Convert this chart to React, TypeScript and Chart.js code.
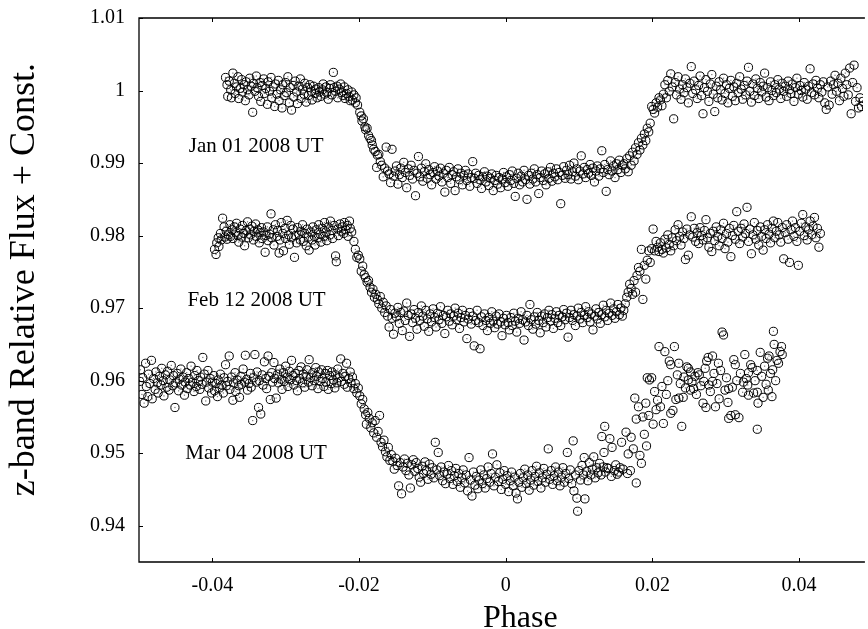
import React, { useEffect, useRef } from 'react';
import { Chart, registerables } from 'chart.js';

Chart.register(...registerables);

const FONT = '"Liberation Serif", "Times New Roman", serif';

const xTickValues = [-0.04, -0.02, 0, 0.02, 0.04];
const xTickLabels = ['-0.04', '-0.02', '0', '0.02', '0.04'];
const yTickValues = [0.94, 0.95, 0.96, 0.97, 0.98, 0.99, 1.0, 1.01];
const yTickLabels = ['0.94', '0.95', '0.96', '0.97', '0.98', '0.99', '1', '1.01'];
const xTitle = 'Phase';
const yTitle = 'z-band Relative Flux + Const.';
const seriesNames = ['Jan 01 2008 UT', 'Feb 12 2008 UT', 'Mar 04 2008 UT'];
// label anchors in data coordinates (phase, flux) for the date texts
const labelAnchors: [number, number][] = [[-0.0432, 0.99153], [-0.0434, 0.97026], [-0.0437, 0.94915]];

const jan01: [number, number][] = [
[-0.0382,1.0018],[-0.0380,1.0008],[-0.0379,0.9992],[-0.0377,1.0013],[-0.0375,1.0001],[-0.0374,0.9990],[-0.0372,1.0024],[-0.0370,1.0010],[-0.0369,0.9996],[-0.0367,1.0005],[-0.0365,1.0019],[-0.0364,0.9989],[-0.0362,1.0003],[-0.0360,1.0015],[-0.0359,0.9998],[-0.0357,1.0008],[-0.0355,0.9986],[-0.0354,1.0012],[-0.0352,1.0001],[-0.0350,0.9994],[-0.0349,1.0017],[-0.0347,1.0006],[-0.0345,0.9970],[-0.0344,1.0010],[-0.0342,0.9999],[-0.0340,1.0020],[-0.0339,1.0004],[-0.0337,0.9992],[-0.0335,1.0011],[-0.0334,0.9985],[-0.0332,1.0007],[-0.0330,1.0016],[-0.0329,0.9996],[-0.0327,1.0003],[-0.0325,0.9981],[-0.0324,1.0012],[-0.0322,0.9999],[-0.0320,1.0018],[-0.0319,0.9990],[-0.0317,1.0005],[-0.0315,0.9978],[-0.0314,1.0009],[-0.0312,0.9995],[-0.0310,1.0014],[-0.0309,0.9986],[-0.0307,1.0001],[-0.0305,0.9976],[-0.0304,1.0008],[-0.0302,0.9993],[-0.0300,1.0011],[-0.0299,0.9997],[-0.0297,1.0019],[-0.0295,0.9983],[-0.0294,1.0004],[-0.0292,0.9973],[-0.0290,1.0007],[-0.0289,0.9991],[-0.0287,1.0013],[-0.0285,0.9998],[-0.0284,0.9982],[-0.0282,1.0006],[-0.0280,1.0016],[-0.0279,0.9989],[-0.0277,1.0002],[-0.0275,0.9995],[-0.0274,1.0010],[-0.0272,0.9984],[-0.0270,1.0004],[-0.0269,0.9993],[-0.0267,1.0008],[-0.0265,0.9999],[-0.0264,0.9987],[-0.0262,1.0006],[-0.0260,0.9996],[-0.0259,1.0002],[-0.0257,0.9990],[-0.0255,1.0004],[-0.0254,0.9998],[-0.0252,0.9992],[-0.0250,1.0001],[-0.0249,1.0009],[-0.0247,0.9995],[-0.0245,1.0005],[-0.0244,0.9997],[-0.0242,0.9988],[-0.0240,1.0003],[-0.0239,1.0008],[-0.0237,0.9994],[-0.0235,1.0025],[-0.0234,1.0004],[-0.0232,0.9999],[-0.0230,1.0006],[-0.0229,0.9990],[-0.0227,1.0002],[-0.0225,1.0009],[-0.0224,0.9997],[-0.0222,0.9993],[-0.0220,1.0005],[-0.0219,0.9989],[-0.0217,0.9996],[-0.0215,1.0001],[-0.0214,0.9992],[-0.0212,0.9986],[-0.0210,0.9998],[-0.0209,0.9987],[-0.0207,0.9994],[-0.0205,0.9983],[-0.0204,0.9990],[-0.0202,0.9980],
[-0.0199,0.9970],[-0.0197,0.9965],[-0.0196,0.9958],[-0.0194,0.9961],[-0.0192,0.9950],[-0.0191,0.9946],[-0.0189,0.9948],[-0.0187,0.9938],[-0.0185,0.9934],[-0.0183,0.9931],[-0.0182,0.9925],[-0.0180,0.9919],[-0.0178,0.9916],[-0.0176,0.9894],[-0.0175,0.9911],[-0.0173,0.9912],[-0.0171,0.9902],[-0.0169,0.9897],[-0.0167,0.9881],[-0.0165,0.9893],[-0.0163,0.9922],[-0.0161,0.9889],[-0.0159,0.9885],[-0.0157,0.9873],[-0.0155,0.9919],[-0.0153,0.9882],
[-0.0151,0.9889],[-0.0149,0.9896],[-0.0147,0.9871],[-0.0145,0.9884],[-0.0143,0.9893],[-0.0141,0.9880],[-0.0139,0.9901],[-0.0137,0.9887],[-0.0135,0.9866],[-0.0133,0.9892],[-0.0131,0.9883],[-0.0129,0.9897],[-0.0127,0.9878],[-0.0125,0.9890],[-0.0123,0.9855],[-0.0121,0.9886],[-0.0119,0.9909],[-0.0117,0.9881],[-0.0115,0.9893],[-0.0113,0.9875],[-0.0111,0.9888],[-0.0109,0.9899],[-0.0107,0.9879],[-0.0105,0.9891],[-0.0103,0.9884],[-0.0101,0.9870],[-0.0099,0.9887],[-0.0097,0.9895],[-0.0095,0.9878],[-0.0093,0.9889],[-0.0091,0.9882],[-0.0089,0.9893],[-0.0087,0.9874],[-0.0085,0.9886],[-0.0083,0.9860],[-0.0081,0.9890],[-0.0079,0.9880],[-0.0077,0.9894],[-0.0075,0.9872],[-0.0073,0.9884],[-0.0071,0.9888],[-0.0069,0.9862],[-0.0067,0.9881],[-0.0065,0.9892],[-0.0063,0.9877],[-0.0061,0.9886],[-0.0059,0.9870],[-0.0057,0.9883],[-0.0055,0.9890],[-0.0053,0.9876],[-0.0051,0.9885],[-0.0049,0.9868],[-0.0047,0.9880],[-0.0045,0.9902],[-0.0043,0.9879],[-0.0041,0.9886],[-0.0039,0.9872],[-0.0037,0.9883],[-0.0035,0.9877],[-0.0033,0.9865],[-0.0031,0.9881],[-0.0029,0.9888],[-0.0027,0.9874],[-0.0025,0.9882],[-0.0023,0.9869],[-0.0021,0.9879],[-0.0019,0.9885],[-0.0017,0.9862],[-0.0015,0.9876],[-0.0013,0.9883],[-0.0011,0.9871],[-0.0009,0.9880],[-0.0007,0.9866],[-0.0005,0.9878],[-0.0003,0.9887],[-0.0001,0.9873],[0.0001,0.9881],[0.0003,0.9868],[0.0005,0.9884],[0.0007,0.9876],[0.0009,0.9889],[0.0011,0.9872],[0.0013,0.9854],[0.0015,0.9879],[0.0017,0.9886],[0.0019,0.9870],[0.0021,0.9882],[0.0023,0.9874],[0.0025,0.9890],[0.0027,0.9877],[0.0029,0.9850],[0.0031,0.9883],[0.0033,0.9871],[0.0035,0.9886],[0.0037,0.9878],[0.0039,0.9892],[0.0041,0.9874],[0.0043,0.9884],[0.0045,0.9858],[0.0047,0.9880],[0.0049,0.9889],[0.0051,0.9876],[0.0053,0.9885],[0.0055,0.9870],[0.0057,0.9888],[0.0059,0.9879],[0.0061,0.9894],[0.0063,0.9875],[0.0065,0.9886],[0.0067,0.9881],[0.0069,0.9892],[0.0071,0.9877],[0.0073,0.9887],[0.0075,0.9844],[0.0077,0.9883],[0.0079,0.9895],[0.0081,0.9879],[0.0083,0.9890],[0.0085,0.9884],[0.0087,0.9897],[0.0089,0.9878],[0.0091,0.9888],[0.0093,0.9900],[0.0095,0.9882],[0.0097,0.9892],[0.0099,0.9877],[0.0101,0.9889],[0.0103,0.9910],[0.0105,0.9885],[0.0107,0.9894],[0.0109,0.9880],[0.0111,0.9891],[0.0113,0.9886],[0.0115,0.9898],[0.0117,0.9883],[0.0119,0.9893],[0.0121,0.9874],[0.0123,0.9889],[0.0125,0.9896],[0.0127,0.9882],[0.0129,0.9892],[0.0131,0.9917],[0.0133,0.9887],[0.0135,0.9898],[0.0137,0.9861],[0.0139,0.9891],[0.0141,0.9884],[0.0143,0.9903],[0.0145,0.9889],[0.0147,0.9896],[0.0149,0.9880],[0.0151,0.9899],[0.0153,0.9891],[0.0155,0.9904],[0.0157,0.9887],[0.0159,0.9897],
[0.0161,0.9899],[0.0163,0.9892],[0.0165,0.9906],[0.0167,0.9888],[0.0169,0.9910],[0.0171,0.9897],[0.0173,0.9915],[0.0175,0.9903],[0.0177,0.9921],[0.0179,0.9912],[0.0181,0.9928],[0.0183,0.9918],[0.0185,0.9934],[0.0187,0.9925],[0.0189,0.9940],[0.0191,0.9931],[0.0193,0.9948],[0.0195,0.9943],[0.0197,0.9955],[0.0199,0.9978],[0.0201,0.9974],[0.0203,0.9969],[0.0205,0.9983],[0.0207,0.9977],[0.0209,0.9990],
[0.0211,0.9987],[0.0213,0.9979],[0.0215,0.9995],[0.0217,1.0008],[0.0219,0.9990],[0.0221,1.0014],[0.0223,0.9999],[0.0225,1.0023],[0.0227,1.0005],[0.0229,0.9961],[0.0231,1.0011],[0.0233,0.9994],[0.0235,1.0019],[0.0237,1.0002],[0.0239,0.9988],[0.0241,1.0008],[0.0243,0.9997],[0.0245,1.0016],[0.0247,1.0004],[0.0249,0.9983],[0.0251,1.0010],[0.0253,1.0033],[0.0255,0.9996],[0.0257,1.0013],[0.0259,1.0001],[0.0261,0.9989],[0.0263,1.0007],[0.0265,1.0020],[0.0267,0.9993],[0.0269,0.9968],[0.0271,1.0004],[0.0273,1.0015],[0.0275,0.9999],[0.0277,0.9985],[0.0279,1.0009],[0.0281,1.0022],[0.0283,0.9995],[0.0285,0.9971],[0.0287,1.0006],[0.0289,0.9990],[0.0291,1.0012],[0.0293,1.0001],[0.0295,0.9987],[0.0297,1.0017],[0.0299,0.9996],[0.0301,1.0008],[0.0303,0.9983],[0.0305,1.0003],[0.0307,1.0014],[0.0309,0.9992],[0.0311,1.0005],[0.0313,0.9986],[0.0315,1.0010],[0.0317,0.9997],[0.0319,1.0019],[0.0321,1.0002],[0.0323,0.9988],[0.0325,1.0007],[0.0327,0.9994],[0.0329,1.0013],[0.0331,1.0032],[0.0333,0.9999],[0.0335,0.9984],[0.0337,1.0009],[0.0339,0.9993],[0.0341,1.0016],[0.0343,1.0003],[0.0345,0.9989],[0.0347,1.0011],[0.0349,0.9998],[0.0351,1.0006],[0.0353,1.0024],[0.0355,0.9991],[0.0357,1.0004],[0.0359,0.9986],[0.0361,1.0012],[0.0363,1.0000],[0.0365,0.9993],[0.0367,1.0008],[0.0369,0.9997],[0.0371,1.0015],[0.0373,1.0002],[0.0375,0.9989],[0.0377,1.0010],[0.0379,0.9999],[0.0381,1.0006],[0.0383,0.9992],[0.0385,1.0013],[0.0387,1.0001],[0.0389,0.9996],[0.0391,1.0009],[0.0393,0.9985],[0.0395,1.0004],[0.0397,1.0017],[0.0399,0.9995],[0.0401,1.0007],[0.0403,1.0000],[0.0405,0.9991],[0.0407,1.0011],[0.0409,1.0002],[0.0411,0.9988],[0.0413,1.0006],[0.0415,1.0030],[0.0417,0.9997],[0.0419,1.0009],[0.0421,0.9994],[0.0423,1.0014],[0.0425,1.0003],[0.0427,0.9990],[0.0429,1.0008],[0.0431,0.9998],[0.0433,1.0012],[0.0435,0.9983],[0.0437,0.9974],[0.0439,1.0005],[0.0441,0.9980],[0.0443,1.0013],[0.0445,0.9995],[0.0447,1.0008],[0.0449,1.0021],[0.0451,0.9999],[0.0453,1.0010],[0.0455,0.9986],[0.0457,1.0017],[0.0459,1.0003],[0.0461,0.9992],[0.0463,1.0024],[0.0465,1.0008],[0.0467,0.9994],[0.0469,1.0031],[0.0471,0.9968],[0.0473,1.0011],[0.0475,1.0035],[0.0477,0.9985],[0.0479,1.0004],[0.0481,0.9976],[0.0483,0.9990],[0.0485,0.9978],[0.0487,0.9985],[0.0489,0.9992]
];

const feb12: [number, number][] = [
[-0.0397,0.9781],[-0.0395,0.9774],[-0.0394,0.9790],[-0.0392,0.9797],[-0.0391,0.9785],[-0.0389,0.9803],[-0.0388,0.9794],[-0.0386,0.9824],[-0.0384,0.9812],[-0.0383,0.9798],[-0.0381,0.9806],[-0.0380,0.9795],[-0.0378,0.9801],[-0.0376,0.9815],[-0.0375,0.9799],[-0.0373,0.9808],[-0.0372,0.9796],[-0.0370,0.9812],[-0.0368,0.9804],[-0.0367,0.9817],[-0.0365,0.9800],[-0.0364,0.9791],[-0.0362,0.9809],[-0.0360,0.9798],[-0.0359,0.9814],[-0.0357,0.9803],[-0.0356,0.9786],[-0.0354,0.9807],[-0.0352,0.9819],[-0.0351,0.9797],[-0.0349,0.9809],[-0.0348,0.9801],[-0.0346,0.9813],[-0.0344,0.9794],[-0.0343,0.9806],[-0.0341,0.9816],[-0.0340,0.9799],[-0.0338,0.9808],[-0.0336,0.9790],[-0.0335,0.9804],[-0.0333,0.9811],[-0.0332,0.9796],[-0.0330,0.9805],[-0.0328,0.9777],[-0.0327,0.9800],[-0.0325,0.9812],[-0.0324,0.9793],[-0.0322,0.9802],[-0.0320,0.9830],[-0.0319,0.9797],[-0.0317,0.9808],[-0.0316,0.9787],[-0.0314,0.9815],[-0.0312,0.9799],[-0.0311,0.9807],[-0.0309,0.9776],[-0.0308,0.9794],[-0.0306,0.9818],[-0.0304,0.9803],[-0.0303,0.9779],[-0.0301,0.9810],[-0.0300,0.9796],[-0.0298,0.9821],[-0.0296,0.9801],[-0.0295,0.9788],[-0.0293,0.9814],[-0.0292,0.9797],[-0.0290,0.9809],[-0.0288,0.9770],[-0.0287,0.9800],[-0.0285,0.9790],[-0.0284,0.9811],[-0.0282,0.9802],[-0.0280,0.9794],[-0.0279,0.9806],[-0.0277,0.9815],[-0.0276,0.9792],[-0.0274,0.9803],[-0.0272,0.9786],[-0.0271,0.9809],[-0.0269,0.9798],[-0.0268,0.9780],[-0.0266,0.9805],[-0.0264,0.9794],[-0.0263,0.9812],[-0.0261,0.9799],[-0.0260,0.9787],[-0.0258,0.9808],[-0.0256,0.9797],[-0.0255,0.9815],[-0.0253,0.9802],[-0.0252,0.9791],[-0.0250,0.9810],[-0.0248,0.9799],[-0.0247,0.9818],[-0.0245,0.9805],[-0.0244,0.9793],[-0.0242,0.9812],[-0.0240,0.9801],[-0.0239,0.9820],[-0.0237,0.9807],[-0.0236,0.9796],[-0.0234,0.9814],[-0.0232,0.9772],[-0.0231,0.9764],[-0.0229,0.9809],[-0.0228,0.9800],[-0.0226,0.9816],[-0.0224,0.9806],[-0.0223,0.9812],[-0.0221,0.9803],[-0.0220,0.9818],[-0.0218,0.9808],[-0.0216,0.9814],[-0.0215,0.9799],[-0.0213,0.9820],[-0.0212,0.9810],[-0.0210,0.9805],
[-0.0207,0.9792],[-0.0205,0.9781],[-0.0203,0.9770],[-0.0201,0.9773],[-0.0199,0.9768],[-0.0197,0.9751],[-0.0195,0.9758],[-0.0193,0.9746],[-0.0191,0.9742],[-0.0189,0.9736],[-0.0187,0.9738],[-0.0185,0.9729],[-0.0183,0.9722],[-0.0181,0.9726],[-0.0179,0.9715],[-0.0177,0.9719],[-0.0175,0.9712],[-0.0173,0.9706],[-0.0171,0.9716],[-0.0169,0.9700],[-0.0167,0.9708],[-0.0165,0.9694],[-0.0163,0.9703],[-0.0161,0.9689],[-0.0159,0.9674],[-0.0157,0.9698],[-0.0155,0.9686],[-0.0153,0.9664],[-0.0151,0.9693],
[-0.0149,0.9688],[-0.0147,0.9701],[-0.0145,0.9679],[-0.0143,0.9694],[-0.0141,0.9669],[-0.0139,0.9696],[-0.0137,0.9683],[-0.0135,0.9707],[-0.0133,0.9690],[-0.0131,0.9661],[-0.0129,0.9692],[-0.0127,0.9680],[-0.0125,0.9698],[-0.0123,0.9686],[-0.0121,0.9671],[-0.0119,0.9694],[-0.0117,0.9683],[-0.0115,0.9703],[-0.0113,0.9689],[-0.0111,0.9675],[-0.0109,0.9697],[-0.0107,0.9685],[-0.0105,0.9668],[-0.0103,0.9692],[-0.0101,0.9681],[-0.0099,0.9699],[-0.0097,0.9687],[-0.0095,0.9674],[-0.0093,0.9693],[-0.0091,0.9684],[-0.0089,0.9702],[-0.0087,0.9679],[-0.0085,0.9690],[-0.0083,0.9665],[-0.0081,0.9688],[-0.0079,0.9697],[-0.0077,0.9682],[-0.0075,0.9692],[-0.0073,0.9677],[-0.0071,0.9689],[-0.0069,0.9700],[-0.0067,0.9684],[-0.0065,0.9693],[-0.0063,0.9672],[-0.0061,0.9687],[-0.0059,0.9697],[-0.0057,0.9681],[-0.0055,0.9690],[-0.0053,0.9658],[-0.0051,0.9685],[-0.0049,0.9694],[-0.0047,0.9678],[-0.0045,0.9689],[-0.0043,0.9648],[-0.0041,0.9683],[-0.0039,0.9697],[-0.0037,0.9680],[-0.0035,0.9644],[-0.0033,0.9688],[-0.0031,0.9676],[-0.0029,0.9692],[-0.0027,0.9683],[-0.0025,0.9669],[-0.0023,0.9687],[-0.0021,0.9679],[-0.0019,0.9695],[-0.0017,0.9682],[-0.0015,0.9673],[-0.0013,0.9689],[-0.0011,0.9678],[-0.0009,0.9692],[-0.0007,0.9681],[-0.0005,0.9662],[-0.0003,0.9686],[-0.0001,0.9677],[0.0001,0.9690],[0.0003,0.9680],[0.0005,0.9670],[0.0007,0.9687],[0.0009,0.9676],[0.0011,0.9693],[0.0013,0.9682],[0.0015,0.9667],[0.0017,0.9686],[0.0019,0.9679],[0.0021,0.9695],[0.0023,0.9684],[0.0025,0.9656],[0.0027,0.9681],[0.0029,0.9690],[0.0031,0.9676],[0.0033,0.9705],[0.0035,0.9684],[0.0037,0.9671],[0.0039,0.9688],[0.0041,0.9678],[0.0043,0.9694],[0.0045,0.9683],[0.0047,0.9666],[0.0049,0.9689],[0.0051,0.9680],[0.0053,0.9692],[0.0055,0.9674],[0.0057,0.9687],[0.0059,0.9697],[0.0061,0.9682],[0.0063,0.9691],[0.0065,0.9672],[0.0067,0.9686],[0.0069,0.9695],[0.0071,0.9680],[0.0073,0.9690],[0.0075,0.9676],[0.0077,0.9688],[0.0079,0.9698],[0.0081,0.9684],[0.0083,0.9693],[0.0085,0.9660],[0.0087,0.9687],[0.0089,0.9697],[0.0091,0.9683],[0.0093,0.9691],[0.0095,0.9676],[0.0097,0.9689],[0.0099,0.9700],[0.0101,0.9685],[0.0103,0.9694],[0.0105,0.9680],[0.0107,0.9690],[0.0109,0.9702],[0.0111,0.9687],[0.0113,0.9695],[0.0115,0.9681],[0.0117,0.9692],[0.0119,0.9670],[0.0121,0.9689],[0.0123,0.9699],[0.0125,0.9685],[0.0127,0.9694],[0.0129,0.9679],[0.0131,0.9691],[0.0133,0.9704],[0.0135,0.9688],[0.0137,0.9697],[0.0139,0.9683],[0.0141,0.9693],[0.0143,0.9707],[0.0145,0.9690],[0.0147,0.9699],[0.0149,0.9686],[0.0151,0.9695],[0.0153,0.9705],[0.0155,0.9691],[0.0157,0.9700],[0.0159,0.9689],[0.0161,0.9697],
[0.0163,0.9706],[0.0165,0.9715],[0.0167,0.9722],[0.0169,0.9733],[0.0171,0.9727],[0.0173,0.9719],[0.0175,0.9738],[0.0177,0.9722],[0.0179,0.9745],[0.0181,0.9756],[0.0183,0.9751],[0.0185,0.9781],[0.0187,0.9712],[0.0189,0.9759],[0.0191,0.9740],[0.0193,0.9766],[0.0195,0.9779],[0.0197,0.9763],[0.0199,0.9782],[0.0201,0.9809],[0.0203,0.9779],[0.0205,0.9792],
[0.0207,0.9784],[0.0209,0.9778],[0.0211,0.9790],[0.0213,0.9781],[0.0215,0.9776],[0.0217,0.9795],[0.0219,0.9783],[0.0221,0.9801],[0.0223,0.9788],[0.0225,0.9779],[0.0227,0.9797],[0.0229,0.9786],[0.0231,0.9808],[0.0233,0.9793],[0.0235,0.9815],[0.0237,0.9799],[0.0239,0.9787],[0.0241,0.9805],[0.0243,0.9796],[0.0245,0.9767],[0.0247,0.9809],[0.0249,0.9773],[0.0251,0.9801],[0.0253,0.9826],[0.0255,0.9798],[0.0257,0.9810],[0.0259,0.9792],[0.0261,0.9804],[0.0263,0.9789],[0.0265,0.9811],[0.0267,0.9800],[0.0269,0.9794],[0.0271,0.9807],[0.0273,0.9822],[0.0275,0.9797],[0.0277,0.9784],[0.0279,0.9803],[0.0281,0.9778],[0.0283,0.9806],[0.0285,0.9793],[0.0287,0.9812],[0.0289,0.9799],[0.0291,0.9786],[0.0293,0.9808],[0.0295,0.9796],[0.0297,0.9817],[0.0299,0.9782],[0.0301,0.9803],[0.0303,0.9791],[0.0305,0.9810],[0.0307,0.9771],[0.0309,0.9800],[0.0311,0.9814],[0.0313,0.9795],[0.0315,0.9833],[0.0317,0.9806],[0.0319,0.9789],[0.0321,0.9810],[0.0323,0.9798],[0.0325,0.9816],[0.0327,0.9803],[0.0329,0.9839],[0.0331,0.9792],[0.0333,0.9809],[0.0335,0.9775],[0.0337,0.9801],[0.0339,0.9818],[0.0341,0.9795],[0.0343,0.9807],[0.0345,0.9787],[0.0347,0.9812],[0.0349,0.9799],[0.0351,0.9780],[0.0353,0.9808],[0.0355,0.9796],[0.0357,0.9815],[0.0359,0.9802],[0.0361,0.9790],[0.0363,0.9810],[0.0365,0.9820],[0.0367,0.9797],[0.0369,0.9806],[0.0371,0.9818],[0.0373,0.9801],[0.0375,0.9791],[0.0377,0.9811],[0.0379,0.9768],[0.0381,0.9804],[0.0383,0.9815],[0.0385,0.9795],[0.0387,0.9763],[0.0389,0.9808],[0.0391,0.9820],[0.0393,0.9799],[0.0395,0.9811],[0.0397,0.9792],[0.0399,0.9759],[0.0401,0.9806],[0.0403,0.9817],[0.0405,0.9829],[0.0407,0.9800],[0.0409,0.9812],[0.0411,0.9794],[0.0413,0.9808],[0.0415,0.9820],[0.0417,0.9801],[0.0419,0.9813],[0.0421,0.9825],[0.0423,0.9797],[0.0425,0.9810],[0.0427,0.9784],[0.0429,0.9803]
];

const mar04: [number, number][] = [
[-0.0499,0.9599],[-0.0498,0.9615],[-0.0496,0.9581],[-0.0495,0.9604],[-0.0493,0.9569],[-0.0491,0.9624],[-0.0490,0.9592],[-0.0488,0.9578],[-0.0487,0.9609],[-0.0485,0.9596],[-0.0483,0.9628],[-0.0482,0.9575],[-0.0480,0.9603],[-0.0478,0.9588],[-0.0477,0.9612],[-0.0475,0.9597],[-0.0474,0.9583],[-0.0472,0.9606],[-0.0470,0.9594],[-0.0469,0.9617],[-0.0467,0.9600],[-0.0466,0.9579],[-0.0464,0.9608],[-0.0462,0.9591],[-0.0461,0.9613],[-0.0459,0.9587],[-0.0458,0.9601],[-0.0456,0.9621],[-0.0454,0.9593],[-0.0453,0.9607],[-0.0451,0.9563],[-0.0450,0.9597],[-0.0448,0.9610],[-0.0446,0.9586],[-0.0445,0.9602],[-0.0443,0.9616],[-0.0442,0.9594],[-0.0440,0.9605],[-0.0438,0.9580],[-0.0437,0.9598],[-0.0435,0.9611],[-0.0434,0.9589],[-0.0432,0.9603],[-0.0430,0.9594],[-0.0429,0.9620],[-0.0427,0.9598],[-0.0425,0.9585],[-0.0424,0.9607],[-0.0422,0.9592],[-0.0421,0.9614],[-0.0419,0.9600],[-0.0417,0.9588],[-0.0416,0.9605],[-0.0414,0.9595],[-0.0413,0.9632],[-0.0411,0.9609],[-0.0409,0.9572],[-0.0408,0.9598],[-0.0406,0.9614],[-0.0405,0.9590],[-0.0403,0.9603],[-0.0401,0.9583],[-0.0400,0.9598],[-0.0398,0.9607],[-0.0397,0.9586],[-0.0395,0.9596],[-0.0393,0.9578],[-0.0392,0.9601],[-0.0390,0.9590],[-0.0389,0.9609],[-0.0387,0.9594],[-0.0385,0.9583],[-0.0384,0.9604],[-0.0382,0.9622],[-0.0381,0.9593],[-0.0379,0.9599],[-0.0377,0.9634],[-0.0376,0.9588],[-0.0374,0.9605],[-0.0372,0.9573],[-0.0371,0.9597],[-0.0369,0.9611],[-0.0368,0.9585],[-0.0366,0.9601],[-0.0364,0.9593],[-0.0363,0.9577],[-0.0361,0.9606],[-0.0360,0.9595],[-0.0358,0.9616],[-0.0356,0.9598],[-0.0355,0.9635],[-0.0353,0.9602],[-0.0352,0.9587],[-0.0350,0.9596],[-0.0348,0.9610],[-0.0347,0.9591],[-0.0345,0.9545],[-0.0344,0.9604],[-0.0342,0.9636],[-0.0340,0.9598],[-0.0339,0.9612],[-0.0337,0.9563],[-0.0336,0.9600],[-0.0334,0.9554],[-0.0332,0.9608],[-0.0331,0.9594],[-0.0329,0.9626],[-0.0327,0.9603],[-0.0326,0.9589],[-0.0324,0.9634],[-0.0323,0.9606],[-0.0321,0.9574],[-0.0319,0.9611],[-0.0318,0.9598],[-0.0316,0.9625],[-0.0315,0.9603],[-0.0313,0.9576],[-0.0311,0.9609],[-0.0310,0.9597],[-0.0308,0.9616],[-0.0306,0.9602],[-0.0305,0.9588],[-0.0303,0.9611],[-0.0302,0.9599],[-0.0300,0.9620],[-0.0298,0.9605],[-0.0297,0.9592],[-0.0295,0.9613],[-0.0294,0.9601],[-0.0292,0.9628],[-0.0290,0.9607],[-0.0289,0.9594],[-0.0287,0.9610],[-0.0285,0.9600],[-0.0284,0.9586],[-0.0282,0.9614],[-0.0281,0.9603],[-0.0279,0.9619],[-0.0277,0.9597],[-0.0276,0.9609],[-0.0274,0.9591],[-0.0272,0.9606],[-0.0271,0.9615],[-0.0269,0.9598],[-0.0268,0.9629],[-0.0266,0.9604],[-0.0264,0.9593],[-0.0263,0.9611],[-0.0261,0.9600],[-0.0259,0.9618],[-0.0258,0.9606],[-0.0256,0.9589],[-0.0255,0.9612],[-0.0253,0.9599],[-0.0251,0.9615],[-0.0250,0.9603],[-0.0248,0.9592],[-0.0246,0.9610],[-0.0245,0.9598],[-0.0243,0.9614],[-0.0242,0.9588],[-0.0240,0.9607],[-0.0238,0.9596],[-0.0237,0.9612],[-0.0235,0.9601],[-0.0233,0.9590],[-0.0232,0.9608],[-0.0230,0.9597],[-0.0229,0.9616],[-0.0227,0.9604],[-0.0225,0.9630],[-0.0224,0.9599],[-0.0222,0.9610],[-0.0220,0.9595],[-0.0219,0.9606],[-0.0217,0.9624],[-0.0216,0.9591],[-0.0214,0.9603],[-0.0212,0.9612],[-0.0211,0.9597],[-0.0209,0.9605],[-0.0207,0.9589],
[-0.0205,0.9596],[-0.0203,0.9583],[-0.0201,0.9590],[-0.0199,0.9579],[-0.0197,0.9568],[-0.0195,0.9574],[-0.0193,0.9561],[-0.0191,0.9553],[-0.0190,0.9540],[-0.0188,0.9556],[-0.0186,0.9548],[-0.0184,0.9535],[-0.0182,0.9542],[-0.0180,0.9528],[-0.0178,0.9545],[-0.0176,0.9522],[-0.0174,0.9530],[-0.0172,0.9552],[-0.0170,0.9515],[-0.0168,0.9509],[-0.0166,0.9518],[-0.0164,0.9502],[-0.0162,0.9495],[-0.0160,0.9508],[-0.0158,0.9490],[-0.0156,0.9498],
[-0.0154,0.9489],[-0.0152,0.9478],[-0.0150,0.9493],[-0.0148,0.9483],[-0.0146,0.9455],[-0.0144,0.9487],[-0.0142,0.9444],[-0.0140,0.9481],[-0.0138,0.9492],[-0.0136,0.9476],[-0.0134,0.9486],[-0.0132,0.9470],[-0.0130,0.9452],[-0.0128,0.9484],[-0.0126,0.9491],[-0.0124,0.9475],[-0.0122,0.9487],[-0.0120,0.9479],[-0.0118,0.9467],[-0.0116,0.9460],[-0.0114,0.9482],[-0.0112,0.9472],[-0.0110,0.9488],[-0.0108,0.9476],[-0.0106,0.9464],[-0.0104,0.9485],[-0.0102,0.9471],[-0.0100,0.9480],[-0.0098,0.9466],[-0.0096,0.9515],[-0.0094,0.9477],[-0.0092,0.9501],[-0.0090,0.9469],[-0.0088,0.9481],[-0.0086,0.9462],[-0.0084,0.9474],[-0.0082,0.9458],[-0.0080,0.9471],[-0.0078,0.9483],[-0.0076,0.9465],[-0.0074,0.9476],[-0.0072,0.9457],[-0.0070,0.9469],[-0.0068,0.9479],[-0.0066,0.9461],[-0.0064,0.9472],[-0.0062,0.9453],[-0.0060,0.9466],[-0.0058,0.9477],[-0.0056,0.9459],[-0.0054,0.9470],[-0.0052,0.9448],[-0.0050,0.9494],[-0.0048,0.9463],[-0.0046,0.9441],[-0.0044,0.9474],[-0.0042,0.9456],[-0.0040,0.9468],[-0.0038,0.9451],[-0.0036,0.9463],[-0.0034,0.9477],[-0.0032,0.9458],[-0.0030,0.9470],[-0.0028,0.9452],[-0.0026,0.9465],[-0.0024,0.9481],[-0.0022,0.9460],[-0.0020,0.9472],[-0.0018,0.9499],[-0.0016,0.9455],[-0.0014,0.9467],[-0.0012,0.9484],[-0.0010,0.9461],[-0.0008,0.9473],[-0.0006,0.9450],[-0.0004,0.9464],[-0.0002,0.9476],[0.0000,0.9457],[0.0002,0.9469],[0.0004,0.9447],[0.0006,0.9462],[0.0008,0.9474],[0.0010,0.9455],[0.0012,0.9467],[0.0014,0.9445],[0.0016,0.9437],[0.0018,0.9460],[0.0020,0.9472],[0.0022,0.9453],[0.0024,0.9466],[0.0026,0.9478],[0.0028,0.9458],[0.0030,0.9470],[0.0032,0.9449],[0.0034,0.9463],[0.0036,0.9476],[0.0038,0.9456],[0.0040,0.9468],[0.0042,0.9482],[0.0044,0.9461],[0.0046,0.9473],[0.0048,0.9452],[0.0050,0.9466],[0.0052,0.9479],[0.0054,0.9460],[0.0056,0.9471],[0.0058,0.9506],[0.0060,0.9464],[0.0062,0.9476],[0.0064,0.9457],[0.0066,0.9469],[0.0068,0.9481],[0.0070,0.9462],[0.0072,0.9474],[0.0074,0.9455],[0.0076,0.9467],[0.0078,0.9480],[0.0080,0.9460],[0.0082,0.9472],[0.0084,0.9501],[0.0086,0.9465],[0.0088,0.9477],[0.0090,0.9458],[0.0092,0.9517],[0.0093,0.9448],[0.0095,0.9470],[0.0097,0.9438],[0.0098,0.9420],[0.0100,0.9476],[0.0102,0.9463],[0.0104,0.9483],[0.0106,0.9470],[0.0107,0.9494],[0.0108,0.9437],[0.0110,0.9475],[0.0112,0.9462],[0.0114,0.9487],[0.0116,0.9470],[0.0118,0.9478],[0.0120,0.9495],[0.0122,0.9466],[0.0124,0.9480],[0.0126,0.9473],[0.0128,0.9486],[0.0130,0.9470],[0.0131,0.9523],[0.0133,0.9481],[0.0134,0.9501],[0.0135,0.9537],[0.0136,0.9474],[0.0138,0.9480],[0.0140,0.9479],[0.0142,0.9520],[0.0144,0.9468],[0.0145,0.9508],[0.0148,0.9476],[0.0150,0.9484],[0.0152,0.9471],[0.0154,0.9474],[0.0156,0.9480],[0.0158,0.9515],[0.0160,0.9478],[0.0164,0.9529],[0.0166,0.9472],[0.0167,0.9499],[0.0170,0.9476],
[0.0171,0.9522],[0.0174,0.9506],[0.0176,0.9576],[0.0178,0.9459],[0.0178,0.9547],[0.0181,0.9564],[0.0183,0.9497],[0.0185,0.9486],[0.0187,0.9550],[0.0189,0.9526],[0.0191,0.9569],[0.0192,0.9510],[0.0193,0.9604],[0.0195,0.9552],[0.0196,0.9601],[0.0199,0.9604],[0.0201,0.9540],[0.0203,0.9585],[0.0205,0.9560],[0.0207,0.9573],[0.0209,0.9647],[0.0211,0.9564],[0.0213,0.9592],[0.0215,0.9541],[0.0217,0.9640],[0.0219,0.9581],[0.0221,0.9600],[0.0223,0.9627],[0.0225,0.9622],[0.0225,0.9555],[0.0228,0.9559],[0.0230,0.9647],[0.0232,0.9574],[0.0234,0.9608],[0.0236,0.9624],[0.0236,0.9576],[0.0238,0.9596],[0.0240,0.9537],[0.0242,0.9577],[0.0243,0.9605],[0.0245,0.9590],[0.0247,0.9619],[0.0249,0.9617],[0.0249,0.9601],[0.0252,0.9612],[0.0252,0.9587],[0.0254,0.9598],[0.0256,0.9589],[0.0258,0.9606],[0.0260,0.9581],[0.0262,0.9611],[0.0264,0.9608],[0.0266,0.9593],[0.0269,0.9569],[0.0270,0.9599],[0.0272,0.9617],[0.0273,0.9563],[0.0274,0.9627],[0.0276,0.9632],[0.0277,0.9594],[0.0279,0.9585],[0.0282,0.9634],[0.0282,0.9599],[0.0284,0.9610],[0.0286,0.9564],[0.0288,0.9596],[0.0290,0.9624],[0.0291,0.9575],[0.0293,0.9614],[0.0295,0.9667],[0.0297,0.9663],[0.0299,0.9587],[0.0301,0.9604],[0.0303,0.9570],[0.0304,0.9589],[0.0304,0.9548],[0.0307,0.9552],[0.0309,0.9591],[0.0311,0.9629],[0.0313,0.9622],[0.0313,0.9553],[0.0315,0.9600],[0.0318,0.9549],[0.0320,0.9610],[0.0323,0.9584],[0.0324,0.9598],[0.0326,0.9636],[0.0328,0.9603],[0.0330,0.9594],[0.0331,0.9611],[0.0331,0.9580],[0.0334,0.9622],[0.0336,0.9618],[0.0338,0.9583],[0.0340,0.9600],[0.0343,0.9614],[0.0343,0.9584],[0.0343,0.9533],[0.0344,0.9569],[0.0347,0.9639],[0.0349,0.9606],[0.0351,0.9577],[0.0353,0.9620],[0.0355,0.9595],[0.0357,0.9631],[0.0358,0.9587],[0.0359,0.9634],[0.0361,0.9610],[0.0363,0.9578],[0.0364,0.9615],[0.0365,0.9668],[0.0366,0.9650],[0.0368,0.9600],[0.0370,0.9628],[0.0372,0.9624],[0.0374,0.9640],[0.0376,0.9647],[0.0377,0.9636]
];

// small grey dot in the middle of every circle marker, placed from the library's own point elements
const centerDotPlugin = {
  id: 'centerDot',
  afterDatasetsDraw(chart: any) {
    const { ctx, chartArea: a } = chart;
    ctx.save();
    ctx.beginPath();
    ctx.rect(a.left, a.top, a.right - a.left, a.bottom - a.top);
    ctx.clip();
    ctx.fillStyle = 'rgba(0,0,0,0.55)';
    chart.data.datasets.forEach((_d: any, i: number) => {
      const meta = chart.getDatasetMeta(i);
      meta.data.forEach((pt: any) => {
        ctx.fillRect(pt.x - 0.6, pt.y - 0.6, 1.2, 1.2);
      });
    });
    ctx.restore();
  },
};

const framePlugin = {
  id: 'framePlugin',
  afterDraw(chart: any) {
    const { ctx, chartArea: a, scales } = chart;
    const xs = scales.x;
    const ys = scales.y;
    ctx.save();
    ctx.strokeStyle = '#000';
    ctx.lineWidth = 1.3;
    ctx.beginPath();
    ctx.moveTo(a.right + 2, a.top);
    ctx.lineTo(a.left, a.top);
    ctx.lineTo(a.left, a.bottom);
    ctx.lineTo(a.right + 2, a.bottom);
    ctx.stroke();
    const tl = 4;
    ctx.lineWidth = 1;
    ctx.beginPath();
    xTickValues.forEach((v) => {
      const px = Math.round(xs.getPixelForValue(v)) + 0.5;
      ctx.moveTo(px, a.bottom);
      ctx.lineTo(px, a.bottom - tl);
      ctx.moveTo(px, a.top);
      ctx.lineTo(px, a.top + tl);
    });
    yTickValues.forEach((v) => {
      const py = Math.round(ys.getPixelForValue(v)) + 0.5;
      ctx.moveTo(a.left, py);
      ctx.lineTo(a.left + tl, py);
    });
    ctx.stroke();

    ctx.fillStyle = '#000';
    ctx.textBaseline = 'alphabetic';
    ctx.font = `32px ${FONT}`;
    ctx.textAlign = 'left';
    ctx.fillText(xTitle, 483, 627);

    ctx.save();
    ctx.translate(34, 63);
    ctx.rotate(-Math.PI / 2);
    ctx.font = `36px ${FONT}`;
    ctx.textAlign = 'right';
    ctx.fillText(yTitle, 0, 0);
    ctx.restore();

    ctx.font = `21px ${FONT}`;
    ctx.textAlign = 'left';
    seriesNames.forEach((name, i) => {
      const [lx, ly] = labelAnchors[i];
      ctx.fillText(name, xs.getPixelForValue(lx), ys.getPixelForValue(ly));
    });
    ctx.restore();
  },
};

export default function App() {
  const ref = useRef<HTMLCanvasElement | null>(null);
  useEffect(() => {
    if (!ref.current) return;
    const mk = (pts: [number, number][], label: string) => ({
      label,
      data: pts.map(([x, y]) => ({ x, y })),
      pointStyle: 'circle',
      pointRadius: 4.1,
      pointBorderWidth: 1,
      pointBorderColor: '#000',
      pointBackgroundColor: 'rgba(0,0,0,0)',
      showLine: false,
      clip: 0,
    });
    const chart = new Chart(ref.current, {
      type: 'scatter',
      data: {
        datasets: [mk(jan01, seriesNames[0]), mk(feb12, seriesNames[1]), mk(mar04, seriesNames[2])],
      },
      options: {
        animation: false,
        responsive: false,
        devicePixelRatio: 1,
        layout: { padding: { top: 18, right: 0, left: 0, bottom: 0 } },
        plugins: { legend: { display: false }, tooltip: { enabled: false } },
        events: [],
        scales: {
          x: {
            type: 'linear',
            position: 'bottom',
            min: -0.05,
            max: 0.0487,
            grid: { display: false, drawTicks: false, tickLength: 0 },
            border: { display: false },
            ticks: {
              color: '#000',
              font: { family: FONT, size: 20 },
              padding: 12,
              maxRotation: 0,
              autoSkip: false,
              callback: (_v: any, i: number) => xTickLabels[i],
            },
            afterBuildTicks: (s: any) => {
              s.ticks = xTickValues.map((v) => ({ value: v }));
            },
            afterFit: (s: any) => {
              s.height = 67;
              s.paddingLeft = 0;
              s.paddingRight = 0;
            },
          },
          y: {
            type: 'linear',
            position: 'left',
            min: 0.935,
            max: 1.01,
            grid: { display: false, drawTicks: false, tickLength: 0 },
            border: { display: false },
            ticks: {
              color: '#000',
              font: { family: FONT, size: 20 },
              padding: 14,
              autoSkip: false,
              callback: (_v: any, i: number) => yTickLabels[i],
            },
            afterBuildTicks: (s: any) => {
              s.ticks = yTickValues.map((v) => ({ value: v }));
            },
            afterFit: (s: any) => {
              s.width = 139;
              s.paddingTop = 0;
              s.paddingBottom = 0;
            },
          },
        },
      },
      plugins: [centerDotPlugin, framePlugin],
    } as any);
    return () => chart.destroy();
  }, []);
  return (
    <div style={{ position: 'absolute', left: 0, top: 0, width: 868, height: 629, background: '#fff' }}>
      <canvas ref={ref} width={868} height={629} style={{ width: 868, height: 629, display: 'block' }} />
    </div>
  );
}
